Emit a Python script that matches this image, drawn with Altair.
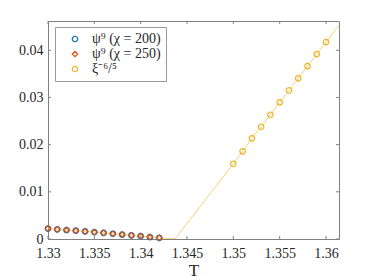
import altair as alt
import pandas as pd

# --- data ---
psi_T = [1.330, 1.331, 1.332, 1.333, 1.334, 1.335, 1.336, 1.337, 1.338, 1.339, 1.340, 1.341, 1.342]
psi200 = [0.00220, 0.00205, 0.00190, 0.00176, 0.00161, 0.00146, 0.00129, 0.00112, 0.00095, 0.00078, 0.00060, 0.00042, 0.00025]
psi250 = [0.00220, 0.00205, 0.00190, 0.00176, 0.00161, 0.00146, 0.00129, 0.00112, 0.00095, 0.00078, 0.00060, 0.00042, 0.00025]

xi_T = [1.350, 1.351, 1.352, 1.353, 1.354, 1.355, 1.356, 1.357, 1.358, 1.359, 1.360]
xi_v = [0.01595, 0.01858, 0.02133, 0.02379, 0.02633, 0.02896, 0.03150, 0.03405, 0.03665, 0.03919, 0.04174]

line_T = psi_T + [1.3437] + xi_T + [1.3614]
line_v = psi200 + [0.0] + xi_v + [0.0453]

series_names = ["ψ⁹ (χ = 200)", "ψ⁹ (χ = 250)", "ξ⁻⁶/⁵"]
colors = ["#0072BD", "#D95319", "#EDB120"]
shapes = ["circle", "diamond", "circle"]

x_ticks = [1.33, 1.335, 1.34, 1.345, 1.35, 1.355, 1.36]
y_ticks = [0, 0.01, 0.02, 0.03, 0.04]

W, H = 291, 218
FONT = "Liberation Serif"
AX = "#808080"
TXT = "#262626"
TL = 3

pts = pd.DataFrame(
    [{"T": t, "v": v, "s": series_names[0]} for t, v in zip(psi_T, psi200)]
    + [{"T": t, "v": v, "s": series_names[1]} for t, v in zip(psi_T, psi250)]
    + [{"T": t, "v": v, "s": series_names[2]} for t, v in zip(xi_T, xi_v)]
)
line_df = pd.DataFrame({"T": line_T, "v": line_v})
xt = pd.DataFrame({"t": x_ticks})
yt = pd.DataFrame({"t": y_ticks})

xs = alt.Scale(domain=[1.33, 1.3614], nice=False, zero=False)
ys = alt.Scale(domain=[0, 0.0462], nice=False, zero=False)

xax = alt.Axis(values=x_ticks, format=".4~f", title="T", labelPadding=7, titlePadding=2)
yax = alt.Axis(values=y_ticks, format=".2~f", title=None, labelPadding=5)

line = alt.Chart(line_df).mark_line(color="#EDB120", strokeWidth=0.8, opacity=0.75, clip=True).encode(
    x=alt.X("T:Q", scale=xs, axis=xax),
    y=alt.Y("v:Q", scale=ys, axis=yax),
)

points = alt.Chart(pts).mark_point(filled=False, size=30, strokeWidth=1.2, opacity=1).encode(
    x=alt.X("T:Q", scale=xs, axis=xax),
    y=alt.Y("v:Q", scale=ys, axis=yax),
    color=alt.Color("s:N", scale=alt.Scale(domain=series_names, range=colors),
                    legend=alt.Legend(title=None, orient="none", legendX=7, legendY=6)),
    shape=alt.Shape("s:N", scale=alt.Scale(domain=series_names, range=shapes), legend=None),
)

tb = alt.Chart(xt).mark_rule(color=AX, strokeWidth=1).encode(
    x=alt.X("t:Q", scale=xs, axis=xax), y=alt.value(H), y2=alt.value(H - TL))
tt = alt.Chart(xt).mark_rule(color=AX, strokeWidth=1).encode(
    x=alt.X("t:Q", scale=xs, axis=xax), y=alt.value(0), y2=alt.value(TL))
tlft = alt.Chart(yt).mark_rule(color=AX, strokeWidth=1).encode(
    y=alt.Y("t:Q", scale=ys, axis=yax), x=alt.value(0), x2=alt.value(TL))
trgt = alt.Chart(yt).mark_rule(color=AX, strokeWidth=1).encode(
    y=alt.Y("t:Q", scale=ys, axis=yax), x=alt.value(W), x2=alt.value(W - TL))

chart = alt.layer(line, points, tb, tt, tlft, trgt).properties(
    width=W, height=H,
    autosize=alt.AutoSizeParams(type="none"),
    padding={"left": 40, "top": 13, "right": 27, "bottom": 41},
    background="white",
).configure(font=FONT).configure_view(stroke=AX, strokeWidth=1).configure_axis(
    grid=False, ticks=False, domainColor=AX, labelColor=TXT, labelFont=FONT,
    labelFontSize=14, titleFont=FONT, titleFontSize=17, titleFontWeight="normal",
    titleColor=TXT, labelFlush=False,
).configure_legend(
    labelFont=FONT, labelFontSize=14, labelColor=TXT, strokeColor="#999999",
    fillColor="white", padding=5, rowPadding=1, labelOffset=10, symbolOffset=8,
    symbolSize=30, symbolStrokeWidth=1.2,
)

chart.save("out.html", embed_options={"renderer": "svg", "actions": False})
